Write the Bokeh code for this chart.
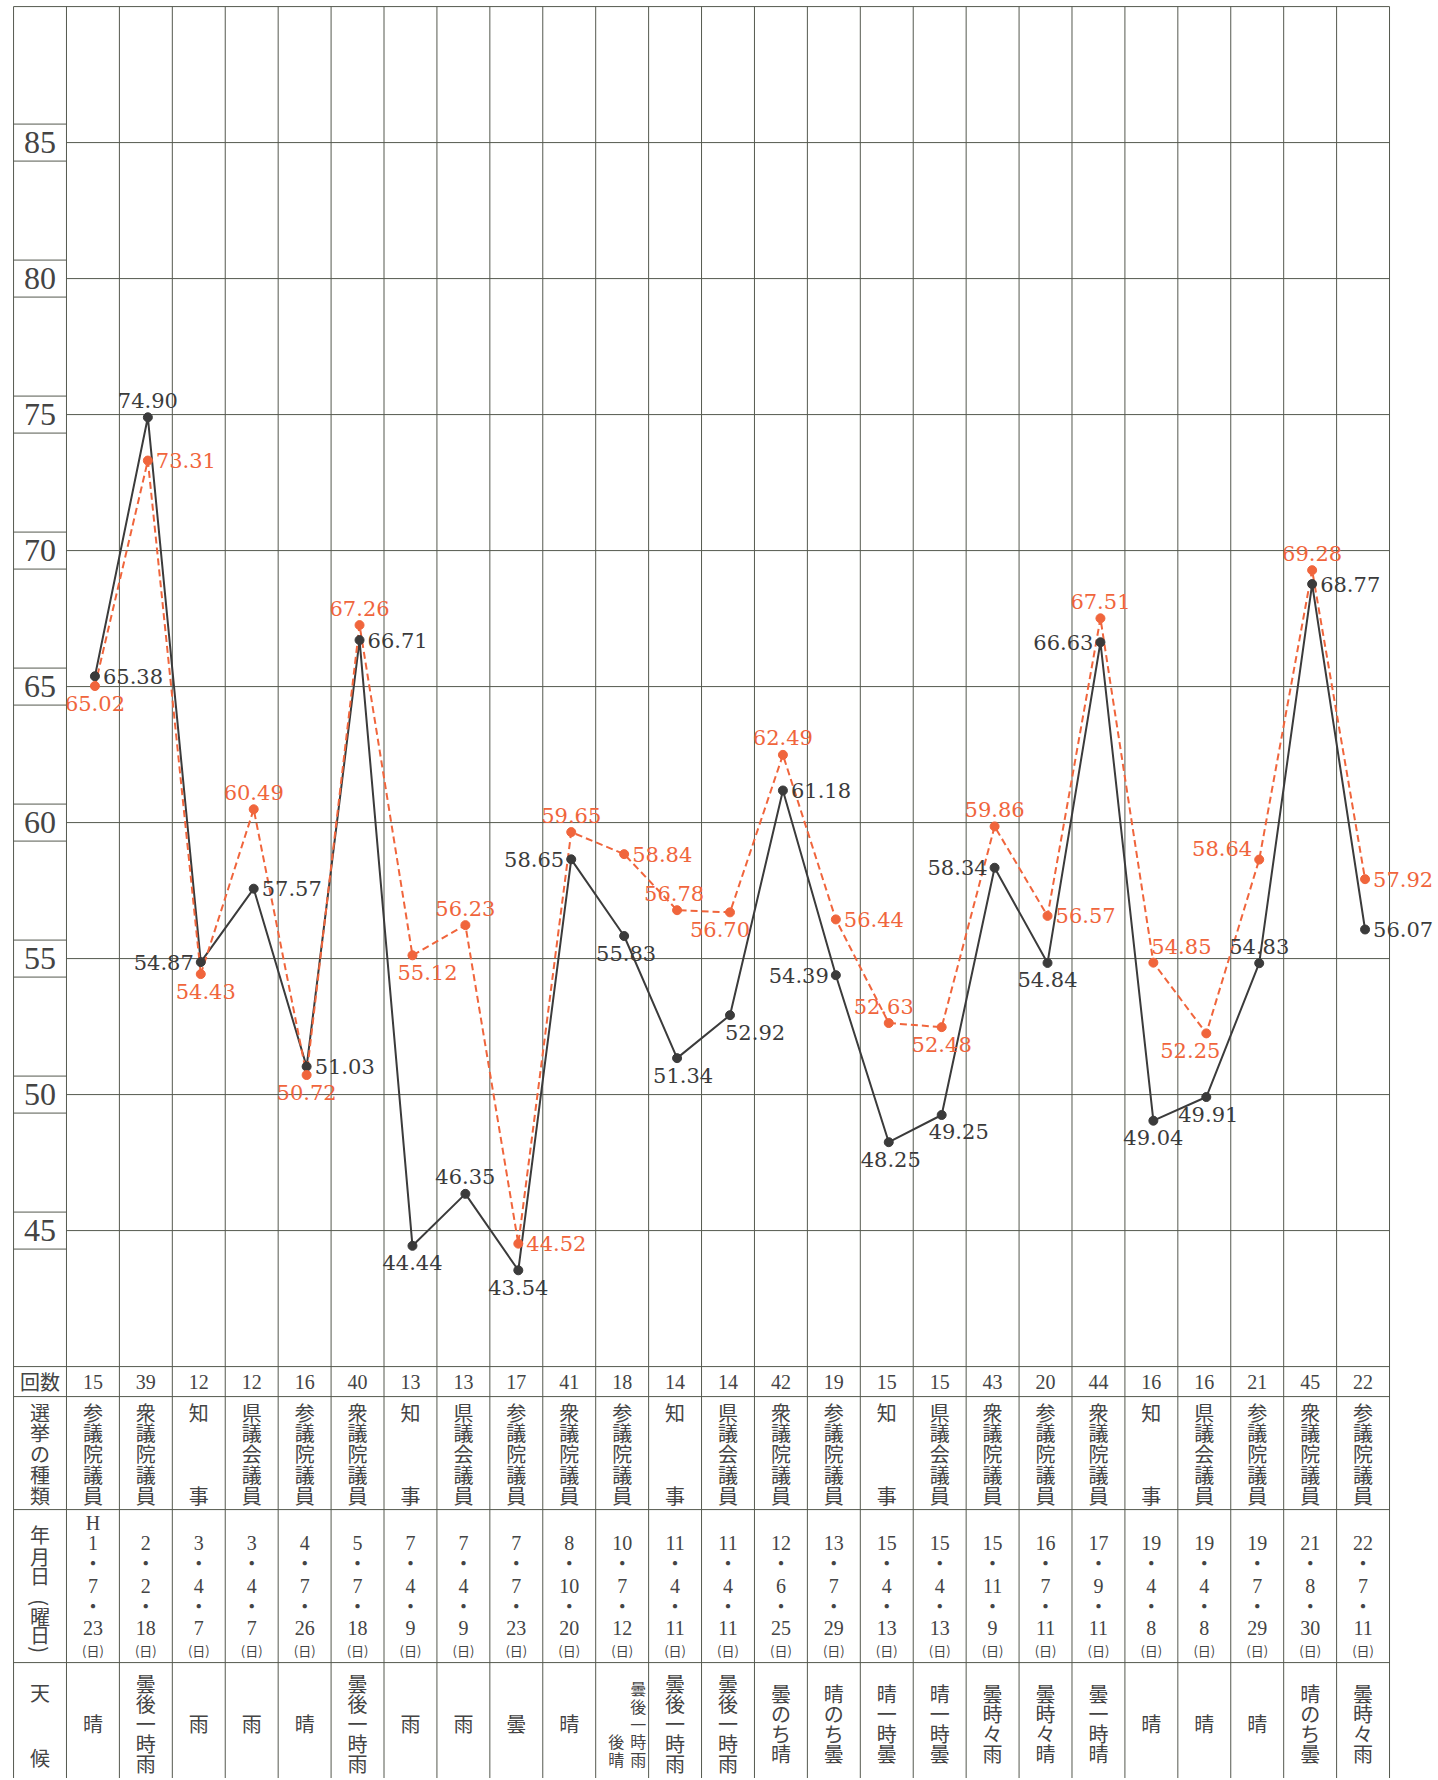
import math
from bokeh.plotting import figure
from bokeh.models import Range1d
from bokeh.core.properties import value
from bokeh.embed import file_html
from bokeh.resources import INLINE

# ---------------- data ----------------
turnout_black = [65.38, 74.90, 54.87, 57.57, 51.03, 66.71, 44.44, 46.35, 43.54, 58.65,
                 55.83, 51.34, 52.92, 61.18, 54.39, 48.25, 49.25, 58.34, 54.84, 66.63,
                 49.04, 49.91, 54.83, 68.77, 56.07]
turnout_orange = [65.02, 73.31, 54.43, 60.49, 50.72, 67.26, 55.12, 56.23, 44.52, 59.65,
                  58.84, 56.78, 56.70, 62.49, 56.44, 52.63, 52.48, 59.86, 56.57, 67.51,
                  54.85, 52.25, 58.64, 69.28, 57.92]
y_ticks = [45, 50, 55, 60, 65, 70, 75, 80, 85]
rounds = [15, 39, 12, 12, 16, 40, 13, 13, 17, 41, 18, 14, 14, 42, 19, 15, 15, 43, 20, 44,
          16, 16, 21, 45, 22]
election_types = ["参議院議員", "衆議院議員", "知事", "県議会議員", "参議院議員", "衆議院議員",
                  "知事", "県議会議員", "参議院議員", "衆議院議員", "参議院議員", "知事",
                  "県議会議員", "衆議院議員", "参議院議員", "知事", "県議会議員", "衆議院議員",
                  "参議院議員", "衆議院議員", "知事", "県議会議員", "参議院議員", "衆議院議員",
                  "参議院議員"]
era = "H"
years = [1, 2, 3, 3, 4, 5, 7, 7, 7, 8, 10, 11, 11, 12, 13, 15, 15, 15, 16, 17, 19, 19, 19, 21, 22]
months = [7, 2, 4, 4, 7, 7, 4, 4, 7, 10, 7, 4, 4, 6, 7, 4, 4, 11, 7, 9, 4, 4, 7, 8, 7]
days = [23, 18, 7, 7, 26, 18, 9, 9, 23, 20, 12, 11, 11, 25, 29, 13, 13, 9, 11, 11, 8, 8, 29, 30, 11]
weekdays = ["日", "日", "日", "日", "日", "日", "日", "日", "日", "日", "日", "日", "日",
            "日", "日", "日", "日", "日", "日", "日", "日", "日", "日", "日", "日"]
weather = ["晴", "曇後一時雨", "雨", "雨", "晴", "曇後一時雨", "雨", "雨", "曇", "晴",
           "曇後一時雨後晴", "曇後一時雨", "曇後一時雨", "曇のち晴", "晴のち曇", "晴一時曇",
           "晴一時曇", "曇時々雨", "曇時々晴", "曇一時晴", "晴", "晴", "晴", "晴のち曇", "曇時々雨"]
hdr_round = "回数"
hdr_type = "選挙の種類"
hdr_date = ["年", "月", "日", "(", "曜", "日", ")"]
hdr_weather = ["天", "候"]

# ---------------- style / layout ----------------
black_spec = [("r", 0), ("a", 0), ("l", 0), ("r", 0), ("r", 0), ("r", 0), ("b", 0), ("a", 0),
              ("b", 0), ("l", 0), ("b", 2), ("b", 6), ("bl", -5), ("r", 0), ("l", 0), ("b", 2),
              ("b", 17), ("l", 0), ("b", 0), ("l", 0), ("b", 0), ("b", 2), ("a", 0), ("r", 0),
              ("r", 0)]
orange_spec = [("b", 0), ("r", 0), ("b", 5), ("a", 0), ("b", 0), ("a", 0), ("b", 15), ("a", 0),
               ("r", 0), ("a", 0), ("r", 0), ("a", -3), ("b", -10), ("a", 0), ("r", 0), ("a", -5),
               ("b", 0), ("a", 0), ("r", 0), ("a", 0), ("al", -2), ("b", -16), ("lu", 0), ("a", 0),
               ("r", 0)]
KINDS = {"r": (8, 0, "left"), "l": (-7, 0, "right"), "a": (0, -17, "center"),
         "b": (0, 17, "center"), "bl": (0, 17, "left"), "al": (0, -16, "left"),
         "lu": (-7, -11, "right")}

n = len(rounds)
UNIT = 27.2       # px per percentage point
COL = 52.92       # px per column
PT_SHIFT = 2 / COL  # markers sit ~2px right of column centre
Y_MAX, Y_MIN = 90, 40
Y_TOP = 90.04
X0, X1 = -1.02, n + 0.85
FRAME_W = round((X1 - X0) * COL)
FRAME_H = 1773
Y_BOT = Y_TOP - FRAME_H / UNIT


def ty(d):
    return Y_MIN - d / UNIT


GRID = "#55594f"
TXT = "#444444"
BLK = "#3b3b3b"
ORG = "#f0653c"
SERIF = value("Liberation Serif")
LABEL_FONT = value("DejaVu Serif")
CJK = value("Noto Sans CJK JP")

p = figure(frame_width=FRAME_W, frame_height=FRAME_H,
           x_range=Range1d(X0, X1), y_range=Range1d(Y_BOT, Y_TOP),
           x_axis_type=None, y_axis_type=None,
           output_backend="svg", toolbar_location=None,
           min_border_left=12, min_border_right=0, min_border_top=5, min_border_bottom=0)
p.outline_line_color = None
p.background_fill_color = "white"
p.border_fill_color = "white"

# ---- grid / table lines ----
xs = list(range(-1, n + 1))
p.segment(x0=xs, y0=[Y_BOT] * len(xs), x1=xs, y1=[Y_MAX] * len(xs), line_color=GRID, line_width=1)
hx0, hx1, hy = [], [], []
for t in y_ticks:
    hx0 += [0, -1, -1]
    hx1 += [n, 0, 0]
    hy += [t, t + 0.68, t - 0.68]
for yv in [Y_MAX] + [ty(d) for d in (0, 30, 143, 296)]:
    hx0.append(-1)
    hx1.append(n)
    hy.append(yv)
p.segment(x0=hx0, y0=hy, x1=hx1, y1=hy, line_color=GRID, line_width=1)

# ---- y tick labels ----
p.text(x=[-0.5] * len(y_ticks), y=y_ticks, text=[str(t) for t in y_ticks],
       text_font=SERIF, text_font_size="32px", text_color=TXT,
       text_align="center", text_baseline="middle")

# ---- series ----
xc = [i + 0.5 + PT_SHIFT for i in range(n)]
p.line(xc, turnout_black, line_color=BLK, line_width=2)
p.line(xc, turnout_orange, line_color=ORG, line_width=2, line_dash="7 4")
p.scatter(xc, turnout_black, size=9, color=BLK)
p.scatter(xc, turnout_orange, size=9, color=ORG)


def place(vals, spec, color):
    groups = {}
    for i, (v, (kind, extra)) in enumerate(zip(vals, spec)):
        dx, dy, al = KINDS[kind]
        g = groups.setdefault(al, ([], [], []))
        g[0].append(xc[i] + (dx + extra) / COL)
        g[1].append(v - dy / UNIT)
        g[2].append(f"{v:.2f}")
    for al, (x, y, t) in groups.items():
        p.text(x=x, y=y, text=t, text_align=al, text_baseline="middle",
               text_font=LABEL_FONT, text_font_size="21px", text_color=color)


place(turnout_black, black_spec, BLK)
place(turnout_orange, orange_spec, ORG)

# ---- table text ----
num = ([], [], [])      # serif numbers
cjk = ([], [], [])      # CJK 20px
small = ([], [], [])    # CJK 13px
tiny = ([], [], [])     # CJK 16px
paren = ([], [], [])


def add(g, x, d, t):
    g[0].append(x)
    g[1].append(ty(d))
    g[2].append(t)


HX = -0.5
add(cjk, HX, 15, hdr_round)
for k, ch in enumerate(hdr_type):
    add(cjk, HX, 87 + (k - 2) * 20.75, ch)
date_pos = [168, 190, 209, 236, 250, 268, 283]
for ch, d in zip(hdr_date, date_pos):
    if ch in "()":
        add(paren, HX, d, ch)
    else:
        add(cjk, HX, d, ch)
add(cjk, HX, 326, hdr_weather[0])
add(cjk, HX, 391, hdr_weather[1])

for i in range(n):
    x = i + 0.5
    add(num, x, 15, str(rounds[i]))
    et = election_types[i]
    if len(et) == 2:
        add(cjk, x, 87 - 2 * 20.75, et[0])
        add(cjk, x, 87 + 2 * 20.75, et[1])
    else:
        for k, ch in enumerate(et):
            add(cjk, x, 87 + (k - 2) * 20.75, ch)
    if i == 0:
        add(num, x, 156, era)
    add(num, x, 176, str(years[i]))
    add(cjk, x, 196, "・")
    add(num, x, 219, str(months[i]))
    add(cjk, x, 239, "・")
    add(num, x, 261, str(days[i]))
    add(small, x, 284, f"({weekdays[i]})")
    w = weather[i]
    if len(w) > 5:
        main, rest = w[:5], w[5:]
        for k, ch in enumerate(main):
            add(tiny, x + 16 / COL, 357 + (k - 2) * 17.75, ch)
        for k, ch in enumerate(rest):
            add(tiny, x - 6 / COL, 357 + (k + 5 - len(rest) - 2) * 17.75, ch)
    else:
        m = len(w)
        for k, ch in enumerate(w):
            add(cjk, x, 357 + (k - (m - 1) / 2) * 20, ch)

p.text(x=num[0], y=num[1], text=num[2], text_font=SERIF, text_font_size="20px",
       text_color=TXT, text_align="center", text_baseline="middle")
p.text(x=cjk[0], y=cjk[1], text=cjk[2], text_font=CJK, text_font_size="20px",
       text_color=TXT, text_align="center", text_baseline="middle")
p.text(x=small[0], y=small[1], text=small[2], text_font=CJK, text_font_size="13px",
       text_color=TXT, text_align="center", text_baseline="middle")
p.text(x=tiny[0], y=tiny[1], text=tiny[2], text_font=CJK, text_font_size="16px",
       text_color=TXT, text_align="center", text_baseline="middle")
p.text(x=paren[0], y=paren[1], text=paren[2], text_font=CJK, text_font_size="20px",
       text_color=TXT, text_align="center", text_baseline="middle", angle=-math.pi / 2)

open("out.html", "w").write(file_html(p, INLINE))
